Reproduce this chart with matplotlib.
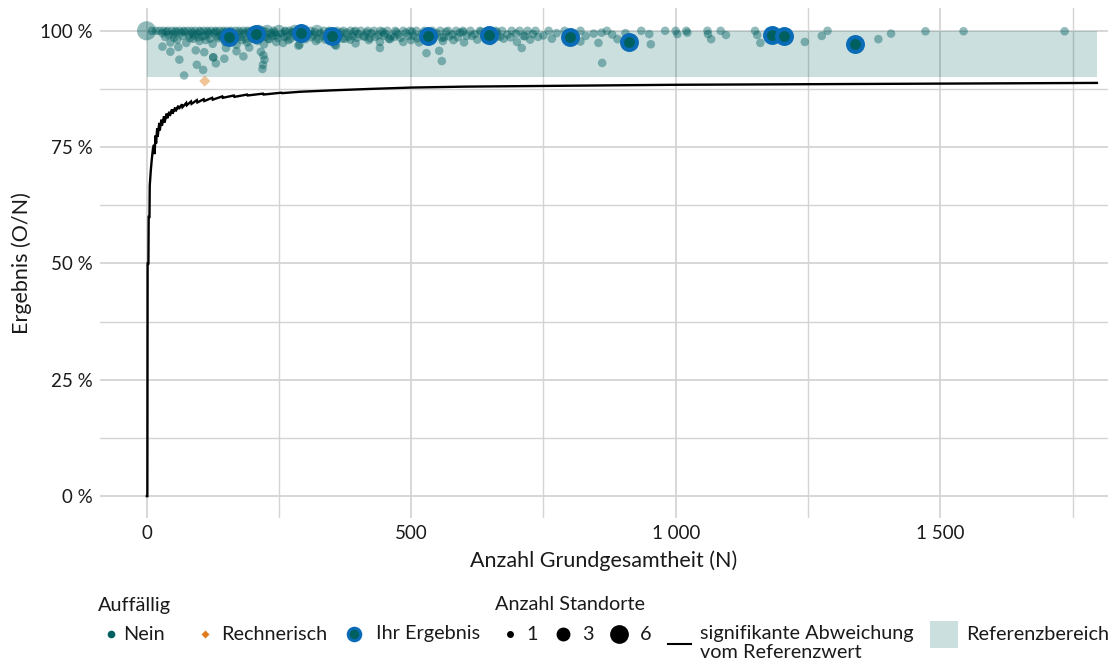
import matplotlib
matplotlib.use("Agg")
import matplotlib.pyplot as plt
from matplotlib.patches import Rectangle
from matplotlib.lines import Line2D

plt.rcParams['font.family'] = ['Lato', 'DejaVu Sans']

# ---------------- data ----------------
# regular hospitals: N (Grundgesamtheit), result in %, number of sites
nein_x = [0, 10, 18, 25, 32, 40, 48, 55, 62, 70, 78, 85, 92, 100, 108, 115, 122, 130, 138, 145,
          152, 160, 168, 175, 183, 190, 198, 212, 220, 228, 240, 250, 262, 270, 280, 300, 310, 322,
          335, 345, 360, 372, 385, 395, 405, 418, 430, 442, 455, 470, 485, 498, 510, 525, 540, 555,
          570, 585, 598, 612, 630, 645, 660, 672, 690, 705, 720, 735, 760, 790, 820, 870, 935, 980,
          1000, 1020, 1060, 1085, 1150, 1185, 1287, 1472, 1544, 1735,
          30, 50, 65, 80, 95, 105, 118, 128, 140, 150, 165, 172, 185, 195, 205, 215, 225, 235, 245,
          255, 265, 275, 285, 295, 305, 315, 328, 340, 352, 365, 378, 390, 400, 412, 425, 438, 450,
          462, 475, 490, 505, 520, 535, 548, 562, 578, 592, 605, 620, 638, 652, 668, 682, 698, 715,
          730, 750, 775, 800, 830, 845, 860, 880, 905, 950, 1003, 1022, 1061, 1095, 1154, 1276, 1407,
          45, 58, 75, 88, 100, 112, 125, 135, 148, 160, 170, 180, 190, 200, 210, 222, 232, 245, 258,
          268, 289, 300, 320, 338, 356, 370, 385, 395, 420, 441, 460, 485, 500, 515, 540, 560, 580,
          600, 625, 650, 675, 700, 725, 766, 800, 820, 854, 890, 953, 1067, 1160, 1244, 1383,
          45, 62, 71, 95, 107, 93, 109, 126, 126, 131, 147, 183, 194, 216, 223, 220, 219, 221, 60,
          287, 358, 441, 529, 553, 558, 709, 861, 30, 150, 170,
          35, 42, 52, 68, 82, 90, 98, 110, 120, 133, 143, 155, 162, 178, 188, 200, 208, 218, 230,
          238, 248, 260, 272, 282, 292, 302, 312, 325, 332, 348, 362, 375, 382, 398, 410, 422, 432,
          448, 458, 468, 480, 495, 512, 528, 545, 558, 572, 588, 615, 642, 662, 688, 712, 740,
          38, 55, 72, 86, 102, 116, 132, 146, 158, 176, 192, 206, 226, 242, 262, 278, 298, 318, 344,
          368, 392, 416, 446, 472, 502, 532, 566, 598, 632, 662]
nein_y = [100, 100, 100, 100, 100, 100, 100, 100, 100, 100, 100, 100, 100, 100, 100, 100, 100, 100, 100, 100,
          100, 100, 100, 100, 100, 100, 100, 100, 100, 100, 100, 100, 100, 100, 100, 100, 100, 100,
          100, 100, 100, 100, 100, 100, 100, 100, 100, 100, 100, 100, 100, 100, 100, 100, 100, 100,
          100, 100, 100, 100, 100, 100, 100, 100, 100, 100, 100, 100, 100, 100, 100, 100, 100, 100,
          100, 100, 100, 100, 100, 100, 100, 99.9, 99.9, 99.9,
          99.5, 99.2, 99.6, 99.0, 99.4, 98.8, 99.3, 99.6, 98.9, 99.5, 99.1, 98.6, 99.4, 98.9, 99.7, 99.2, 98.7, 99.5, 99.0,
          99.4, 98.8, 99.6, 99.1, 98.7, 99.3, 99.0, 99.5, 98.8, 99.4, 99.1, 99.6, 98.9, 99.3, 98.7, 99.5, 99.0, 99.4,
          98.8, 99.2, 99.6, 98.9, 99.3, 99.0, 99.5, 98.6, 99.2, 99.6, 98.9, 99.3, 99.0, 99.5, 98.7, 99.2, 99.4, 98.8,
          99.3, 99.0, 99.5, 99.3, 98.9, 99.4, 99.6, 99.2, 99.5, 99.3, 99.3, 99.6, 99.3, 99.1, 99.1, 98.9, 99.4,
          97.5, 98.1, 97.4, 98.3, 97.8, 98.0, 97.2, 98.4, 97.6, 98.2, 97.0, 98.0, 97.5, 98.3, 97.8, 97.1, 98.2, 97.6, 97.4,
          98.0, 97.0, 98.2, 97.8, 98.1, 97.0, 98.3, 98.1, 97.3, 98.0, 97.6, 98.2, 97.6, 98.0, 97.5, 98.2, 97.8, 98.0,
          97.5, 98.1, 97.8, 98.3, 97.6, 98.1, 98.3, 97.8, 97.7, 97.4, 98.2, 97.1, 98.2, 97.4, 97.6, 98.2,
          95.5, 93.8, 90.4, 92.7, 91.6, 95.8, 95.4, 94.3, 94.3, 93.0, 94.0, 94.5, 96.4, 95.5, 93.8, 92.7, 91.8, 94.7, 96.5,
          96.8, 96.8, 96.3, 95.2, 95.7, 93.5, 96.3, 93.1, 96.6, 96.3, 95.6,
          98.7, 99.1, 98.5, 98.9, 98.4, 99.0, 98.6, 98.9, 98.3, 98.8, 98.5, 98.9, 98.4, 98.7, 98.2, 98.9, 98.5, 98.8, 98.3,
          98.9, 98.5, 98.7, 98.3, 98.8, 98.4, 98.9, 98.6, 98.2, 98.8, 98.5, 98.9, 98.3, 98.7, 98.5, 98.9, 98.4, 98.7,
          98.9, 98.3, 98.7, 98.5, 98.9, 98.4, 98.7, 98.9, 98.5, 98.8, 98.6, 98.9, 98.5, 98.8, 98.6, 98.9, 98.7,
          99.8, 99.7, 99.8, 99.6, 99.8, 99.7, 99.8, 99.7, 99.8, 99.6, 99.8, 99.7, 99.8, 99.6, 99.8, 99.7, 99.8, 99.7, 99.8,
          99.7, 99.8, 99.6, 99.8, 99.7, 99.8, 99.7, 99.8, 99.7, 99.8, 99.7]
nein_n = [5] + [1] * 26 + [2, 1, 2, 1, 2, 1, 1, 2, 1, 1, 2] + [1] * (len(nein_x) - 38)

# "Ihr Ergebnis" hospitals
ihr_x = [156, 207, 292, 350, 532, 647, 800, 912, 1182, 1204, 1338]
ihr_y = [98.7, 99.4, 99.6, 98.9, 98.9, 99.1, 98.7, 97.6, 99.1, 98.9, 97.2]

# "Rechnerisch" auffällig
rech_x = [110]
rech_y = [89.2]

# significance boundary line (incl. saw-teeth near the start)
line_n = [0.5, 1.5, 2, 3.5, 4, 5.5, 6, 8, 10, 12, 14, 15, 17, 18, 20, 21, 24, 25, 28, 29, 33, 34,
          38, 39, 43, 44, 48, 49, 54, 55, 60, 61, 67, 68, 75, 76, 84, 85, 95, 96, 108, 109, 124,
          125, 143, 144, 165, 166, 190, 191, 220, 221, 255, 256, 290, 350, 420, 500, 600, 700, 800,
          900, 1000, 1200, 1400, 1600, 1796]
line_y = [0, 0, 50, 50, 60, 60, 66.7, 70.0, 72.5, 74.6, 75.5, 73.5, 77.5, 75.8, 79.0, 77.2, 80.2,
          78.6, 80.9, 79.6, 81.6, 80.3, 82.2, 81.2, 82.6, 81.7, 83.1, 82.2, 83.5, 82.7, 83.9, 83.2,
          84.2, 83.6, 84.5, 84.0, 84.8, 84.3, 85.1, 84.6, 85.3, 84.9, 85.6, 85.2, 85.9, 85.6, 86.1,
          85.8, 86.3, 86.1, 86.5, 86.3, 86.7, 86.6, 86.9, 87.2, 87.5, 87.8, 88.0, 88.1, 88.2, 88.3,
          88.4, 88.5, 88.6, 88.7, 88.8]

ref_lo, ref_hi = 90, 100
ref_x0, ref_x1 = 0, 1796

x_ticks = [0, 500, 1000, 1500]
x_labels = ["0", "500", "1 000", "1 500"]
y_ticks = [0, 25, 50, 75, 100]
y_labels = ["0 %", "25 %", "50 %", "75 %", "100 %"]

# ---------------- styling ----------------
TEAL = '#005f5f'
BLUE = '#0a6cb6'
ORANGE = '#e07b1a'
GRID = '#d4d4d4'
TXT = '#1a1a1a'

W, H = 1117, 667
fig = plt.figure(figsize=(W / 100, H / 100), dpi=100)
ax = fig.add_axes([100 / W, 1 - 518 / H, 1008 / W, 510 / H])
ax.set_xlim(-88, 1817)
ax.set_ylim(-4.7, 104.9)
for s in ax.spines.values():
    s.set_visible(False)

ax.set_xticks(x_ticks)
ax.set_xticklabels(x_labels)
ax.set_xticks([250, 750, 1250, 1750], minor=True)
ax.set_yticks(y_ticks)
ax.set_yticklabels(y_labels)
ax.set_yticks([12.5, 37.5, 62.5, 87.5], minor=True)
ax.tick_params(which='both', length=0, labelsize=13.5, colors=TXT, pad=5)
ax.grid(True, which='major', color=GRID, lw=1.3)
ax.grid(True, which='minor', color=GRID, lw=1.0)
ax.set_axisbelow(True)

ax.add_patch(Rectangle((ref_x0, ref_lo), ref_x1 - ref_x0, ref_hi - ref_lo,
                       facecolor=TEAL, alpha=0.2, edgecolor='none', zorder=1))

ax.plot(line_n, line_y, color='black', lw=1.7, zorder=2, solid_joinstyle='miter')

ax.scatter(nein_x, nein_y, s=[38 * n for n in nein_n], color=TEAL, alpha=0.42,
           edgecolors='none', zorder=3)
ax.scatter(rech_x, rech_y, s=32, marker='D', color=ORANGE, alpha=0.45,
           edgecolors='none', zorder=3)
ax.scatter(ihr_x, ihr_y, s=115, color=TEAL, edgecolors=BLUE, linewidths=2.9, zorder=4)

ax.set_xlabel("Anzahl Grundgesamtheit (N)", fontsize=15.5, color=TXT, labelpad=6)
ax.set_ylabel("Ergebnis (O/N)", fontsize=15.5, color=TXT, labelpad=6)

# ---------------- legend (manual, pixel coordinates) ----------------
lg = fig.add_axes([0, 0, 1, 1])
lg.set_xlim(0, W)
lg.set_ylim(H, 0)
lg.axis('off')
fs = 14.3
lg.text(98, 605, "Auffällig", fontsize=fs, color=TXT, va='center', ha='left')
lg.add_line(Line2D([111], [634], marker='o', ms=5.5, color=TEAL, mec='none', ls=''))
lg.text(123, 634, "Nein", fontsize=fs, color=TXT, va='center')
lg.add_line(Line2D([205], [634], marker='D', ms=4.5, color=ORANGE, mec='none', ls=''))
lg.text(221, 634, "Rechnerisch", fontsize=fs, color=TXT, va='center')
lg.add_line(Line2D([354], [634], marker='o', ms=9, color=TEAL, mec=BLUE, mew=2.2, ls=''))
lg.text(376, 634, "Ihr Ergebnis", fontsize=fs, color=TXT, va='center')
lg.text(495, 605, "Anzahl Standorte", fontsize=fs, color=TXT, va='center', ha='left')
lg.add_line(Line2D([510], [634], marker='o', ms=5, color='black', mec='none', ls=''))
lg.text(526, 634, "1", fontsize=fs, color=TXT, va='center')
lg.add_line(Line2D([563], [634], marker='o', ms=10, color='black', mec='none', ls=''))
lg.text(582, 634, "3", fontsize=fs, color=TXT, va='center')
lg.add_line(Line2D([619], [634], marker='o', ms=13.5, color='black', mec='none', ls=''))
lg.text(640, 634, "6", fontsize=fs, color=TXT, va='center')
lg.add_line(Line2D([668, 691], [644, 644], color='black', lw=1.5))
lg.text(700, 634, "signifikante Abweichung", fontsize=fs, color=TXT, va='center')
lg.text(700, 653, "vom Referenzwert", fontsize=fs, color=TXT, va='center')
lg.add_patch(Rectangle((930, 621), 28, 27, facecolor=TEAL, alpha=0.2, edgecolor='none'))
lg.text(966, 634, "Referenzbereich", fontsize=fs, color=TXT, va='center')

fig.savefig("out.png", dpi=100)
